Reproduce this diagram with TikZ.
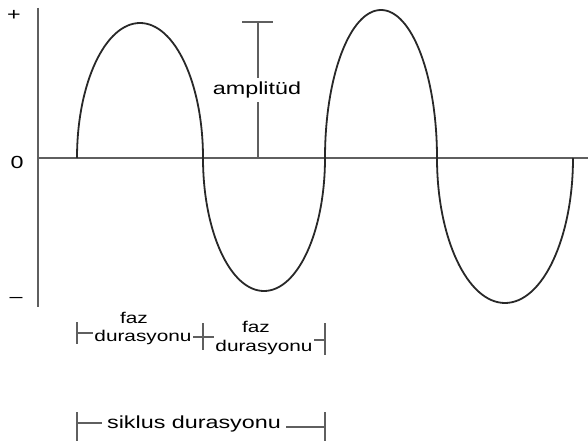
\documentclass[tikz,border=0pt]{standalone}
\usepackage{fontspec}
\setmainfont[FakeStretch=1.333]{Liberation Sans}
\definecolor{axisgray}{RGB}{95,95,95}
\definecolor{wavegray}{RGB}{40,40,40}
\begin{document}
\begin{tikzpicture}[x=1pt, y=1pt,
        axisline/.style={line width=1.6pt, axisgray},
        markline/.style={line width=1.1pt, axisgray},
        wave/.style={line width=1.8pt, wavegray},
        bigtext/.style={font=\fontsize{17.5}{19}\selectfont, inner sep=2pt},
        smalltext/.style={font=\fontsize{15.6}{18}\selectfont, inner sep=1.5pt}]
        \useasboundingbox (0,0) rectangle (588,-441);

        % 坐标轴
        \coordinate (O) at (38,-158);
        \coordinate (axtop) at (38,-8);
        \coordinate (axbot) at (38,-307);
        \coordinate (axend) at (588,-158);
        \draw[axisline] (axtop) -- (axbot);
        \draw[axisline] (O) -- (axend);
        \node[bigtext] (plus) at (14,-15) {+};
        \node[bigtext] (zero) at (17,-162) {0};
        \node[bigtext] (minus) at (16,-300) {--};

        % 波形
        \draw[wave] (77,-158) arc[start angle=180, end angle=0, x radius=63, y radius=135]
            arc[start angle=180, end angle=360, x radius=61, y radius=133]
            arc[start angle=180, end angle=0, x radius=56, y radius=148]
            arc[start angle=180, end angle=360, x radius=68, y radius=145];

        % 振幅
        \node[bigtext, inner sep=4pt] (amp) at (257,-90) {amplitüd};
        \coordinate (amptop) at (258,-22);
        \coordinate (ampbase) at (258,-158);
        \draw[markline] ([xshift=-16]amptop) -- ([xshift=15]amptop);
        \draw[markline] (amptop) -- (amp.north -| amptop);
        \draw[markline] (amp.south -| ampbase) -- (ampbase);

        % 相位
        \node[smalltext] (faz1) at (134,-318) {faz};
        \node[smalltext] (dur1) at (143,-337) {durasyonu};
        \node[smalltext] (faz2) at (256,-327) {faz};
        \node[smalltext] (dur2) at (264,-347) {durasyonu};
        \coordinate (fL) at (77,-333);
        \coordinate (fM) at (203,-337);
        \coordinate (fR) at (325,-340);
        \draw[markline] ([yshift=11]fL) -- ([yshift=-11]fL);
        \draw[markline] ([yshift=14]fM) -- ([yshift=-13]fM);
        \draw[markline] ([yshift=17]fR) -- ([yshift=-15]fR);
        \draw[markline] (fL) -- (fL -| dur1.west);
        \draw[markline] (dur1.east |- fM) -- (dur2.west |- fM);
        \draw[markline] (dur2.east |- fR) -- (fR);

        % 周期
        \node[bigtext, inner sep=5pt] (cyc) at (194,-424) {siklus durasyonu};
        \coordinate (cL) at (77,-423);
        \coordinate (cR) at (325,-427);
        \draw[markline] (77,-412) -- (77,-441);
        \draw[markline] (325,-412) -- (325,-441);
        \draw[markline] (cL) -- (cL -| cyc.west);
        \draw[markline] (cyc.east |- cR) -- (cR);
    \end{tikzpicture}
\end{document}
